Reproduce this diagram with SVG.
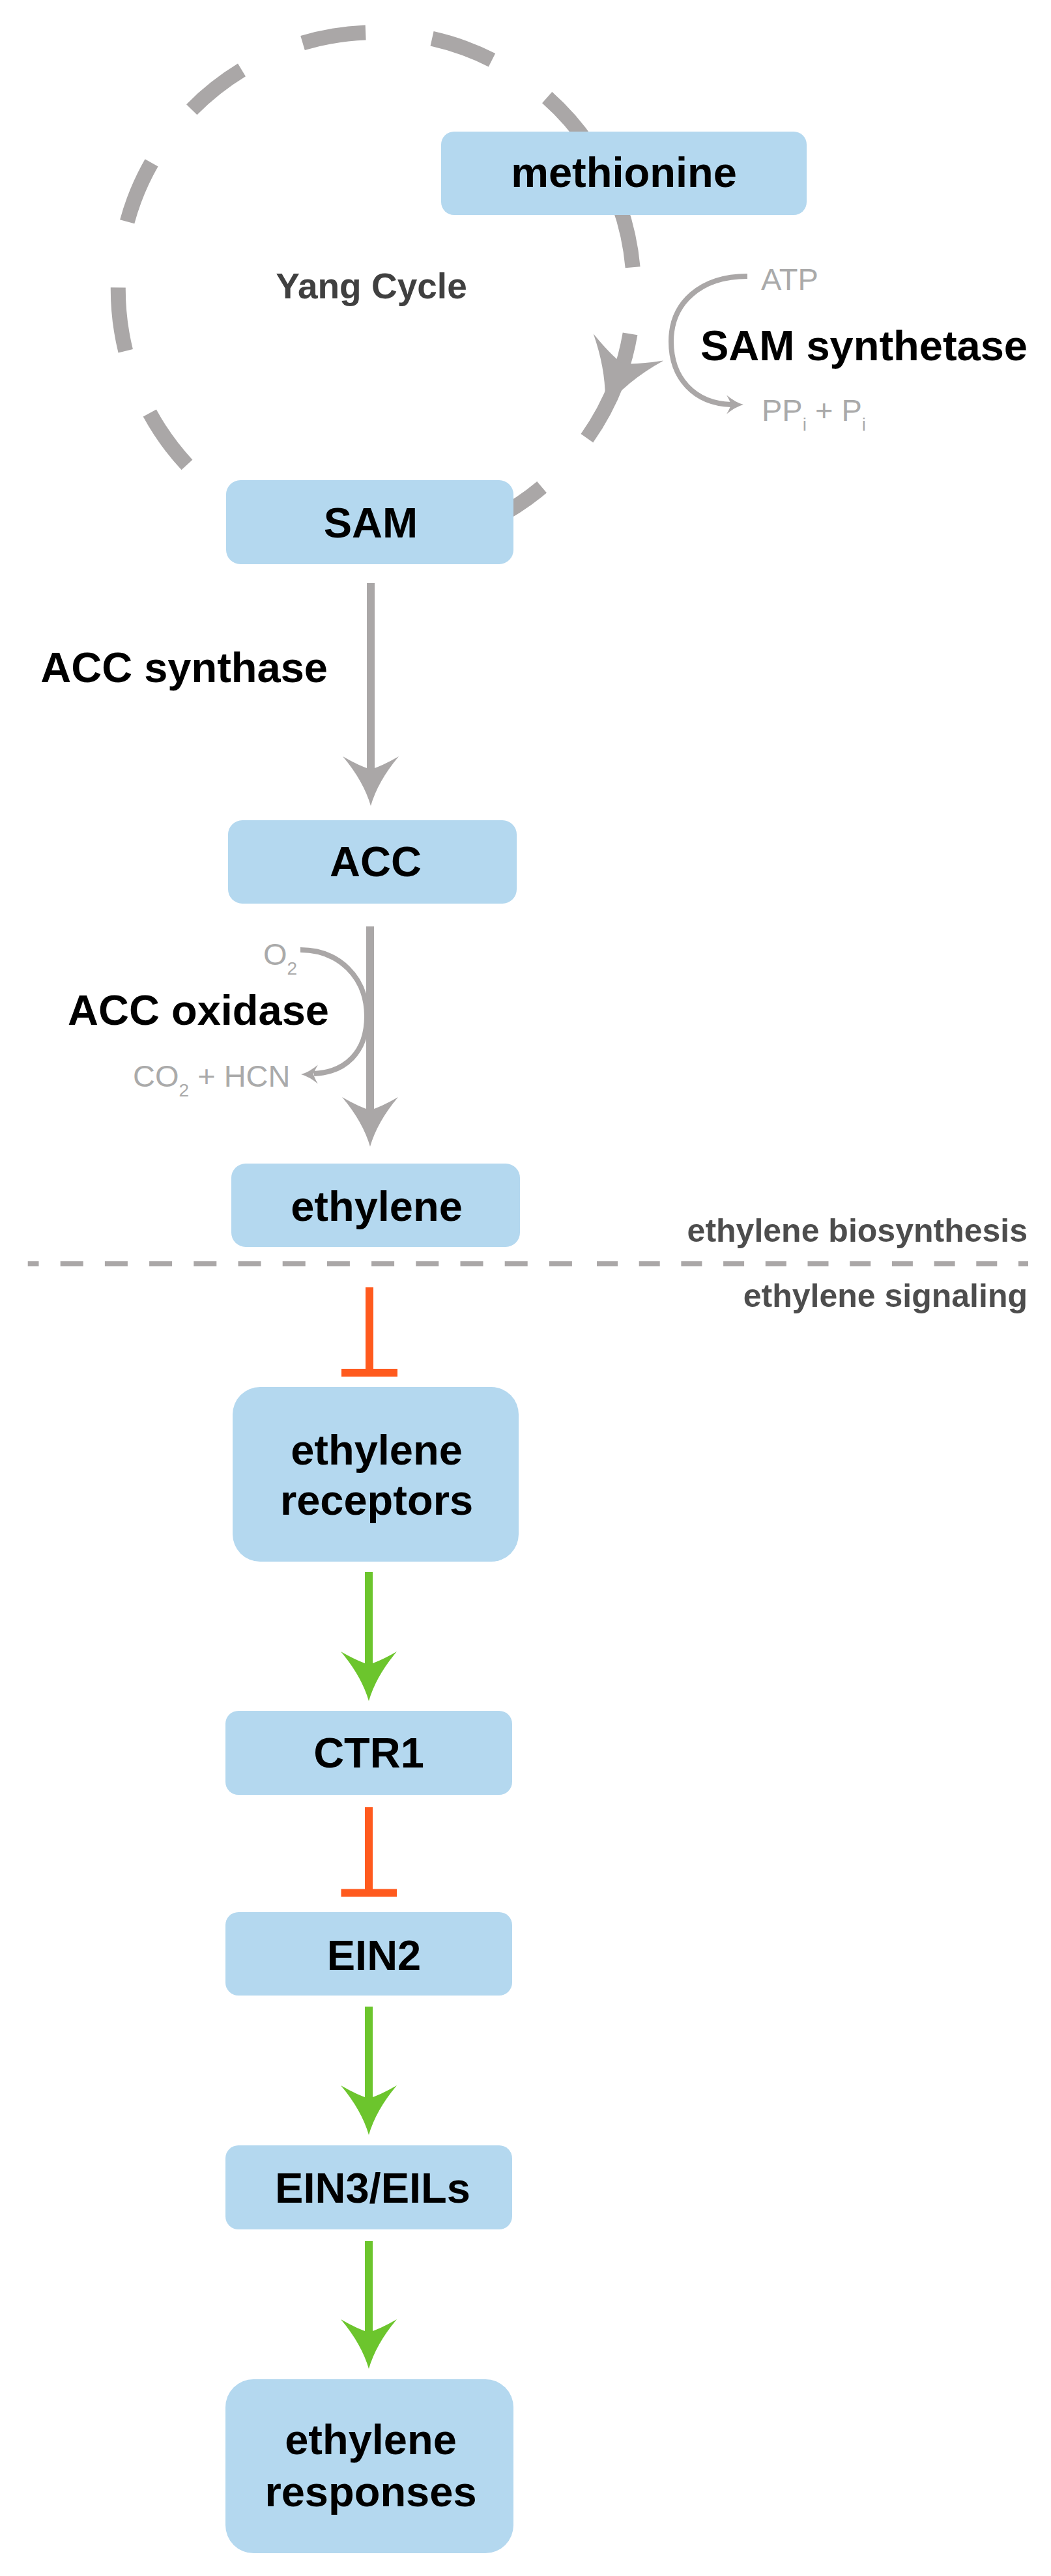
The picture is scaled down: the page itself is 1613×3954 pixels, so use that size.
<svg xmlns="http://www.w3.org/2000/svg" width="1613" height="3954" viewBox="0 0 1613 3954">
<style>
.box{fill:#B4D8EF}
.lbl{font-family:"Liberation Sans",Arial,sans-serif;font-weight:bold;font-size:65px;fill:#000;text-anchor:middle}
.enz{font-family:"Liberation Sans",Arial,sans-serif;font-weight:bold;font-size:65px;fill:#000;text-anchor:end}
.sec{font-family:"Liberation Sans",Arial,sans-serif;font-weight:bold;font-size:50px;fill:#4d4d4d;text-anchor:end}
.yang{font-family:"Liberation Sans",Arial,sans-serif;font-weight:bold;font-size:55px;fill:#404040;text-anchor:middle}
.sm{font-family:"Liberation Sans",Arial,sans-serif;font-size:47px;fill:#aaaaaa}
.gl{stroke:#aaa7a7;stroke-width:12;fill:none}
.gthin{stroke:#aaa7a7;stroke-width:8;fill:none}
.gg{stroke:#6CC52D;stroke-width:12;fill:none}
.go{stroke:#FF5A1E;stroke-width:12;fill:none}
.ahg{fill:#aaa7a7}
.ahgr{fill:#6CC52D}
</style>
<defs>
<path id="ah" d="M0,0 Q-11,-38 -43,-76 Q-17,-61 0,-56 Q17,-61 43,-76 Q11,-38 0,0Z"/>
</defs>
<rect x="0" y="0" width="1613" height="3954" fill="#ffffff"/>

<g id="yang-cycle">
<path d="M946.94,586.27 A396,396 0 0 1 205.84,306.97 A396,396 0 0 1 949.35,579.79" fill="none" stroke="#aaa7a7" stroke-width="23" stroke-dasharray="98.1 102.5"/>
<text class="yang" x="570" y="458">Yang Cycle</text>
</g>

<g id="connectors">
<use href="#ah" class="ahg" transform="translate(928,628) rotate(21) scale(1.34)"/>
<path class="gthin" d="M1147,424 C1075,424 1030,465 1030,524 C1030,580 1065,619 1122,621"/>
<use href="#ah" class="ahg" transform="translate(1141,621) rotate(-90) scale(0.34)"/>
<path class="gl" d="M569,895 V1190"/>
<use href="#ah" class="ahg" transform="translate(569,1237)"/>
<path class="gl" d="M568,1422 V1712"/>
<use href="#ah" class="ahg" transform="translate(568,1760)"/>
<path class="gthin" d="M461,1458 C520,1458 563,1500 563,1560 C563,1615 530,1646 482,1648"/>
<use href="#ah" class="ahg" transform="translate(462,1649) rotate(90) scale(0.34)"/>
<path class="go" d="M567,1976 V2107 M524,2107 H610"/>
<path class="gg" d="M566,2413 V2565"/>
<use href="#ah" class="ahgr" transform="translate(566,2611)"/>
<path class="go" d="M566,2774 V2905.5 M523.5,2905.5 H609"/>
<path class="gg" d="M566,3080 V3230"/>
<use href="#ah" class="ahgr" transform="translate(566,3277)"/>
<path class="gg" d="M566,3440 V3590"/>
<use href="#ah" class="ahgr" transform="translate(566,3636)"/>
</g>

<g id="methionine">
<rect class="box" x="677" y="202" width="561" height="128" rx="20"/>
<text class="lbl" x="957.5" y="287">methionine</text>
</g>
<g id="SAM">
<rect class="box" x="347" y="737" width="441" height="129" rx="22"/>
<text class="lbl" x="569" y="825">SAM</text>
</g>
<g id="ACC">
<rect class="box" x="350" y="1259" width="443" height="128" rx="22"/>
<text class="lbl" x="576.5" y="1345">ACC</text>
</g>
<g id="ethylene">
<rect class="box" x="355" y="1786" width="443" height="128" rx="22"/>
<text class="lbl" x="578" y="1874">ethylene</text>
</g>
<g id="ethylene-receptors">
<rect class="box" x="357" y="2129" width="439" height="268" rx="42"/>
<text class="lbl" x="578" y="2248">ethylene</text>
<text class="lbl" x="578" y="2325">receptors</text>
</g>
<g id="CTR1">
<rect class="box" x="346" y="2626" width="440" height="129" rx="20"/>
<text class="lbl" x="566" y="2713">CTR1</text>
</g>
<g id="EIN2">
<rect class="box" x="346" y="2935" width="440" height="128" rx="20"/>
<text class="lbl" x="574" y="3024">EIN2</text>
</g>
<g id="EIN3-EILs">
<rect class="box" x="346" y="3293" width="440" height="129" rx="20"/>
<text class="lbl" x="572" y="3381">EIN3/EILs</text>
</g>
<g id="ethylene-responses">
<rect class="box" x="346" y="3652" width="442" height="267" rx="43"/>
<text class="lbl" x="569" y="3767">ethylene</text>
<text class="lbl" x="569" y="3847">responses</text>
</g>

<g id="enzymes">
<text class="enz" x="1577" y="553">SAM synthetase</text>
<text class="enz" x="503" y="1047">ACC synthase</text>
<text class="enz" x="505" y="1573">ACC oxidase</text>
</g>

<g id="cofactors">
<text class="sm" x="1168" y="445">ATP</text>
<text class="sm" x="1169" y="646">PP<tspan dy="15" font-size="28">i</tspan><tspan dy="-15"> + P</tspan><tspan dy="15" font-size="28">i</tspan></text>
<text class="sm" x="404" y="1481">O<tspan dy="15" font-size="28">2</tspan></text>
<text class="sm" x="204" y="1668">CO<tspan dy="15" font-size="28">2</tspan><tspan dy="-15"> + HCN</tspan></text>
</g>

<g id="separator">
<path d="M42.7,1939.7 H878" fill="none" stroke="#aaa7a7" stroke-width="7.5" stroke-dasharray="35 33.2" stroke-dashoffset="18.2"/>
<path d="M916,1939.7 H1578" fill="none" stroke="#aaa7a7" stroke-width="7.5" stroke-dasharray="32 32.7"/>
<text class="sec" x="1577" y="1906">ethylene biosynthesis</text>
<text class="sec" x="1577" y="2006">ethylene signaling</text>
</g>
</svg>
